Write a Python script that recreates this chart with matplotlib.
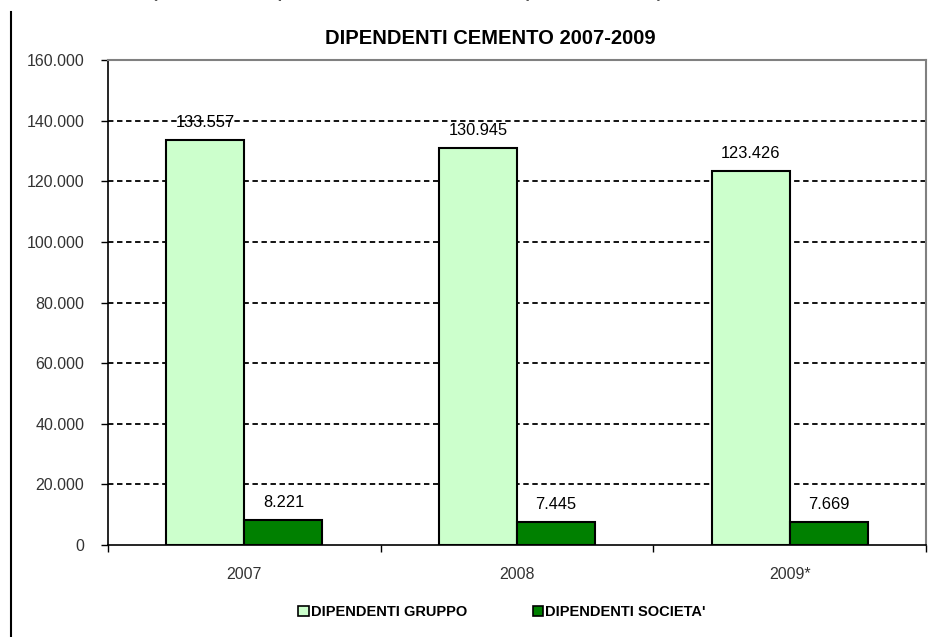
import matplotlib.pyplot as plt
from matplotlib.patches import Patch
from matplotlib.lines import Line2D
import numpy as np

plt.rcParams['font.family'] = ['Liberation Sans', 'DejaVu Sans']

anni = ['2007', '2008', '2009*']
gruppo = [133557, 130945, 123426]
societa = [8221, 7445, 7669]
etichette_gruppo = ['133.557', '130.945', '123.426']
etichette_societa = ['8.221', '7.445', '7.669']
y_ticks = [0, 20000, 40000, 60000, 80000, 100000, 120000, 140000, 160000]
y_labels = ['0', '20.000', '40.000', '60.000', '80.000', '100.000', '120.000', '140.000', '160.000']

col_gruppo = '#CCFFCC'
col_societa = '#008000'

fig = plt.figure(figsize=(9.47, 6.37), dpi=100)
ax = fig.add_axes([0.114, 0.1444, 0.864, 0.7614])

x = np.arange(len(anni))
w = 0.286
ax.bar(x - w / 2, gruppo, w, color=col_gruppo, edgecolor='black', linewidth=1.5, zorder=3)
ax.bar(x + w / 2, societa, w, color=col_societa, edgecolor='black', linewidth=1.5, zorder=3)

for i in range(len(anni)):
    ax.text(x[i] - w / 2, gruppo[i] + 5800, etichette_gruppo[i], ha='center', va='center',
            fontsize=11.8, color='black', zorder=4)
    ax.text(x[i] + w / 2, societa[i] + 5800, etichette_societa[i], ha='center', va='center',
            fontsize=11.8, color='black', zorder=4)

ax.set_xlim(-0.5, 2.5)
ax.set_ylim(0, 160000)
ax.set_yticks(y_ticks)
ax.set_yticklabels(y_labels, fontsize=11.5, color='#333333')
ax.set_xticks(x)
ax.set_xticklabels(anni, fontsize=11.5, color='#333333')
ax.tick_params(axis='x', length=0, pad=16)
ax.tick_params(axis='y', length=5, width=1, direction='out', color='black', pad=12)

# tacche tra le categorie
ax.set_xticks([-0.5, 0.5, 1.5, 2.5], minor=True)
ax.tick_params(axis='x', which='minor', length=5, width=1, direction='out', color='black')

for v in y_ticks[1:-1]:
    ax.axhline(v, color='black', linestyle=(0, (3, 2)), linewidth=1.3, zorder=1)

ax.spines['left'].set_color('black')
ax.spines['bottom'].set_color('black')
ax.spines['left'].set_linewidth(1.2)
ax.spines['bottom'].set_linewidth(1.2)
ax.spines['top'].set_color('#808080')
ax.spines['right'].set_color('#808080')
ax.spines['top'].set_linewidth(1.5)
ax.spines['right'].set_linewidth(1.5)

fig.text(0.518, 1 - 38 / 637, 'DIPENDENTI CEMENTO 2007-2009', ha='center', va='center',
         fontsize=14.5, fontweight='bold')

fig.text(0.43, 1 + 4 / 637, "(variazioni percentuali sull'anno precedente)", ha='center',
         va='baseline', fontsize=19, color='#555555')

fig.add_artist(Line2D([11 / 947, 11 / 947], [0, 1 - 12 / 637], color='black', linewidth=1.5))

handles = [Patch(facecolor=col_gruppo, edgecolor='black', linewidth=1.2, label='DIPENDENTI GRUPPO'),
           Patch(facecolor=col_societa, edgecolor='black', linewidth=1.2, label="DIPENDENTI SOCIETA'")]
fig.legend(handles=handles, loc='center', bbox_to_anchor=(0.53, 1 - 612 / 637), ncol=2,
           frameon=False, handlelength=0.7, handleheight=0.7, handletextpad=0.15,
           columnspacing=4.5, prop={'weight': 'bold', 'size': 10.5})

fig.savefig('out.png', dpi=100)
